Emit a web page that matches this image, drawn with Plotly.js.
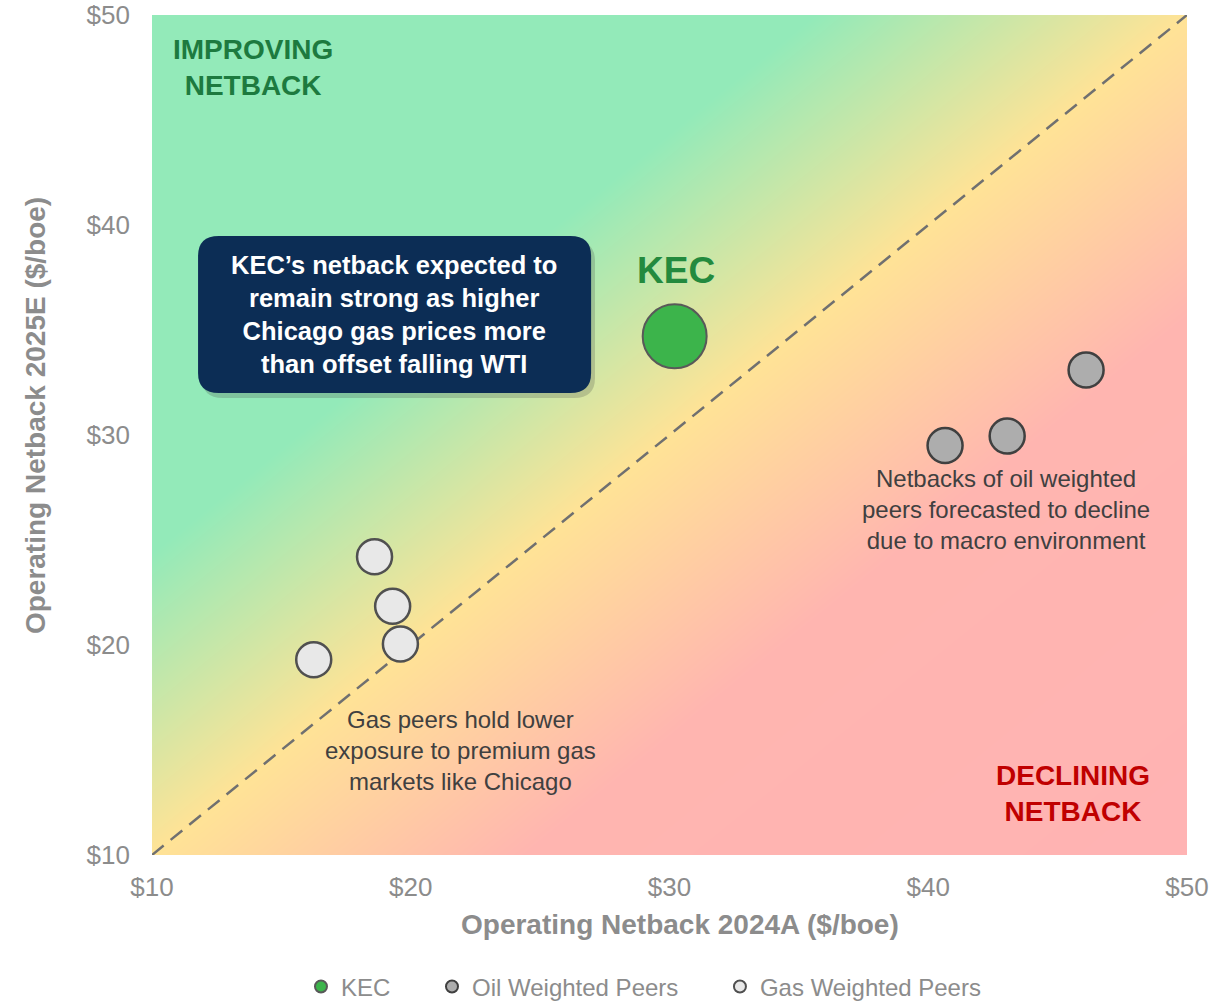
<!DOCTYPE html>
<html>
<head>
<meta charset="utf-8">
<script src="https://cdn.plot.ly/plotly-3.0.1.min.js"></script>
<style>html,body{margin:0;padding:0;background:#fff;}#chart{width:1229px;height:1002px;}</style>
</head>
<body>
<div id="chart"></div>
<script>
// ---- data ----
const kecX = [30.2];
const kecY = [34.7];
const oilX = [40.65, 43.05, 46.1];
const oilY = [29.5, 29.95, 33.1];
const gasX = [18.6, 19.3, 19.6, 16.25];
const gasY = [24.2, 21.85, 20.05, 19.3];
const tickVals = [10, 20, 30, 40, 50];
const tickText = ['$10', '$20', '$30', '$40', '$50'];
const parityLine = [10, 50];

// background field (styling): netback change across the plane
const bgGrid = [];
for (let v = 10; v <= 50; v += 1) bgGrid.push(v);
const bgZ = bgGrid.map(yv => bgGrid.map(xv => (yv - xv) / 40));

const FONT = 'Liberation Sans, Arial, sans-serif';
const GREY = '#8c8c8c';

const traces = [
  {
    type: 'heatmap', x: bgGrid, y: bgGrid, z: bgZ, zsmooth: 'best',
    zmin: -1, zmax: 1, showscale: false, hoverinfo: 'skip', showlegend: false,
    colorscale: [[0, '#ffb3b3'], [0.32, '#ffb5b0'], [0.5, '#ffe396'], [0.68, '#93eab9'], [1, '#93eab9']]
  },
  {
    type: 'scatter', mode: 'lines', x: parityLine, y: parityLine, showlegend: false, hoverinfo: 'skip',
    line: {color: '#707070', width: 2.5, dash: '15px,9px'}
  },
  {
    type: 'scatter', mode: 'markers', name: 'KEC', x: kecX, y: kecY, legend: 'legend',
    marker: {size: 64, color: '#3cb44b', line: {color: '#595959', width: 2}}
  },
  {
    type: 'scatter', mode: 'markers', name: 'Oil Weighted Peers', x: oilX, y: oilY, legend: 'legend2',
    marker: {size: 35, color: '#adadad', line: {color: '#404040', width: 2.5}}
  },
  {
    type: 'scatter', mode: 'markers', name: 'Gas Weighted Peers', x: gasX, y: gasY, legend: 'legend3',
    marker: {size: 35, color: '#e8e8e8', line: {color: '#505050', width: 2.5}}
  }
];

// rounded box path in data coordinates
function roundRect(x0, y0, x1, y1, rx, ry) {
  return `M ${x0 + rx},${y1} L ${x1 - rx},${y1} Q ${x1},${y1} ${x1},${y1 - ry} ` +
         `L ${x1},${y0 + ry} Q ${x1},${y0} ${x1 - rx},${y0} L ${x0 + rx},${y0} ` +
         `Q ${x0},${y0} ${x0},${y0 + ry} L ${x0},${y1 - ry} Q ${x0},${y1} ${x0 + rx},${y1} Z`;
}

function legendAt(x) {
  return {
    orientation: 'h', xref: 'container', yref: 'container',
    x: x, xanchor: 'left', y: 0.015, yanchor: 'middle', bgcolor: 'rgba(0,0,0,0)',
    font: {family: FONT, size: 24, color: GREY}, itemsizing: 'constant'
  };
}

const layout = {
  width: 1229, height: 1002,
  margin: {l: 152, r: 42, t: 15, b: 147},
  paper_bgcolor: '#ffffff', plot_bgcolor: '#ffffff',
  font: {family: FONT, color: GREY, size: 24},
  showlegend: true,
  legend: legendAt(0.2449),
  legend2: legendAt(0.3515),
  legend3: legendAt(0.5858),
  xaxis: {
    range: [10, 50], tickvals: tickVals, ticktext: tickText, showgrid: false, zeroline: false,
    showline: false, ticks: '', ticklabelstandoff: 14, automargin: false,
    tickfont: {size: 26, color: GREY, family: FONT}
  },
  yaxis: {
    range: [10, 50], tickvals: tickVals, ticktext: tickText, showgrid: false, zeroline: false,
    showline: false, ticks: '', ticklabelstandoff: 21, automargin: false,
    tickfont: {size: 26, color: GREY, family: FONT}
  },
  shapes: [
    {type: 'path', xref: 'x', yref: 'y', path: roundRect(11.93, 31.76, 27.12, 39.24, 0.8, 0.95),
     fillcolor: 'rgba(60,60,60,0.22)', line: {width: 0}, layer: 'above'},
    {type: 'path', xref: 'x', yref: 'y', path: roundRect(11.78, 32.0, 26.97, 39.48, 0.8, 0.95),
     fillcolor: '#0c2d55', line: {width: 0}, layer: 'above'}
  ],
  annotations: [
    {x: 0.5101, y: -0.0833, xref: 'paper', yref: 'paper', xanchor: 'center', yanchor: 'middle', showarrow: false,
     text: 'Operating Netback 2024A ($/boe)', font: {size: 28, color: GREY, family: FONT, weight: 'bold'}},
    {x: -0.1130, y: 0.5226, xref: 'paper', yref: 'paper', xanchor: 'center', yanchor: 'middle', showarrow: false, textangle: -90,
     text: 'Operating Netback 2025E ($/boe)', font: {size: 28, color: GREY, family: FONT, weight: 'bold'}},
    {x: 13.9, y: 47.52, xref: 'x', yref: 'y', showarrow: false, align: 'center',
     text: 'IMPROVING<br>NETBACK', font: {family: FONT, size: 28, color: '#1d7a3f', weight: 'bold'}},
    {x: 45.6, y: 12.95, xref: 'x', yref: 'y', showarrow: false, align: 'center',
     text: 'DECLINING<br>NETBACK', font: {family: FONT, size: 28, color: '#c00000', weight: 'bold'}},
    {x: 30.25, y: 37.81, xref: 'x', yref: 'y', showarrow: false,
     text: 'KEC', font: {family: FONT, size: 37, color: '#238a3e', weight: 'bold'}},
    {x: 19.37, y: 35.74, xref: 'x', yref: 'y', showarrow: false, align: 'center',
     text: 'KEC’s netback expected to<br>remain strong as higher<br>Chicago gas prices more<br>than offset falling WTI',
     font: {family: FONT, size: 25.5, color: '#ffffff', weight: 'bold'}},
    {x: 43.0, y: 26.43, xref: 'x', yref: 'y', showarrow: false, align: 'center',
     text: 'Netbacks of oil weighted<br>peers forecasted to decline<br>due to macro environment',
     font: {family: FONT, size: 24, color: '#404040'}},
    {x: 21.94, y: 15.0, xref: 'x', yref: 'y', showarrow: false, align: 'center',
     text: 'Gas peers hold lower<br>exposure to premium gas<br>markets like Chicago',
     font: {family: FONT, size: 24, color: '#404040'}}
  ]
};

Plotly.newPlot('chart', traces, layout, {displayModeBar: false, responsive: false, staticPlot: true});
</script>
</body>
</html>
